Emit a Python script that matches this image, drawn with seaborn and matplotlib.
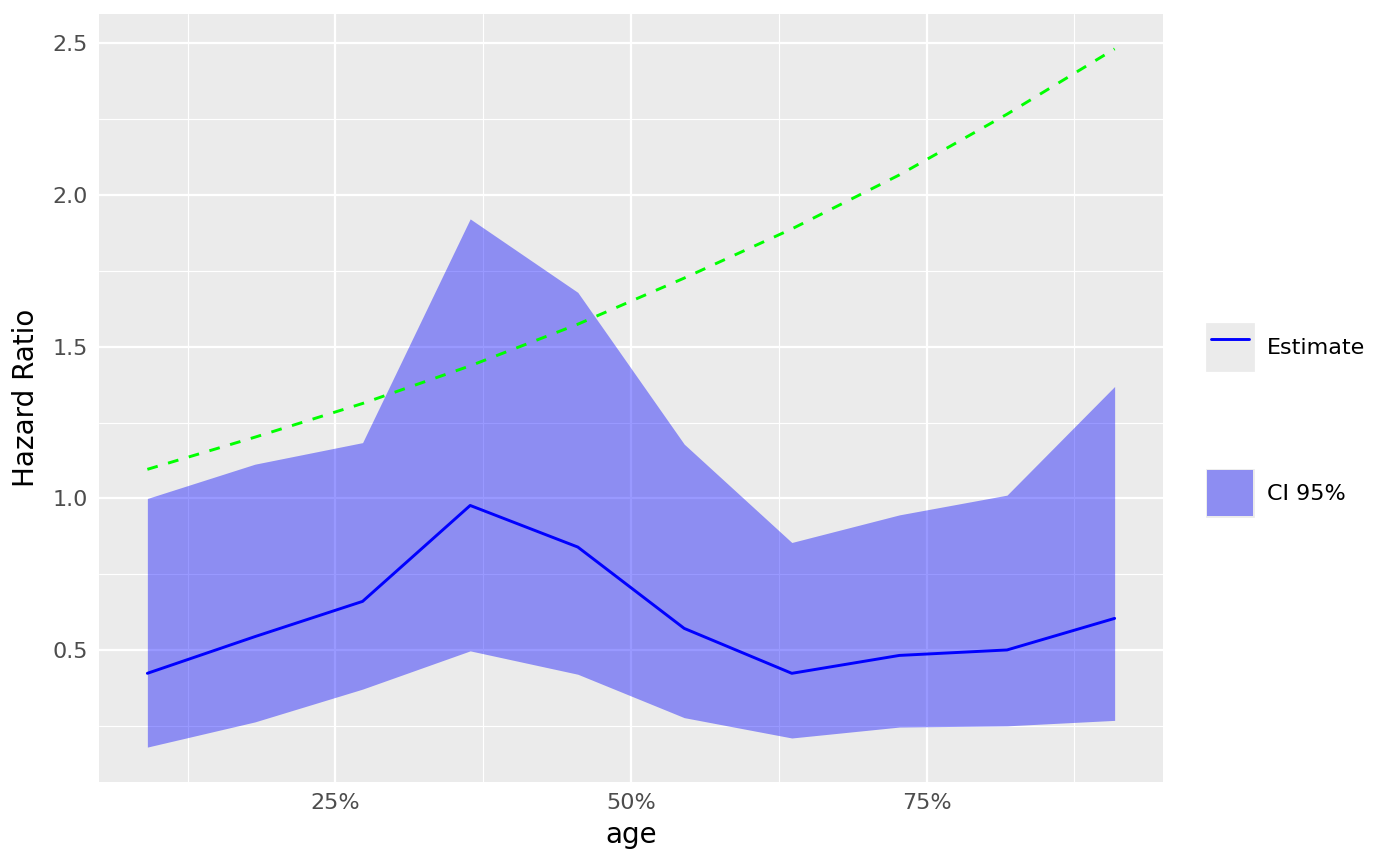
import matplotlib
matplotlib.use("Agg")
import pandas as pd
import matplotlib.pyplot as plt
import seaborn as sns
from matplotlib.ticker import FixedLocator, PercentFormatter
from matplotlib.lines import Line2D
from matplotlib.patches import Patch
from matplotlib.legend_handler import HandlerTuple, HandlerLine2D

# values
age = [0.091, 0.182, 0.273, 0.364, 0.455, 0.545, 0.636, 0.727, 0.818, 0.909]
estimate = [0.424, 0.545, 0.661, 0.977, 0.840, 0.572, 0.424, 0.483, 0.501, 0.605]
ci_lower = [0.181, 0.264, 0.372, 0.498, 0.421, 0.278, 0.211, 0.247, 0.251, 0.269]
ci_upper = [1.000, 1.113, 1.184, 1.921, 1.679, 1.179, 0.855, 0.946, 1.011, 1.369]
reference = [1.096, 1.202, 1.313, 1.437, 1.574, 1.726, 1.888, 2.066, 2.266, 2.481]

x_breaks = [0.25, 0.50, 0.75]
x_minor = [0.125, 0.375, 0.625, 0.875]
y_breaks = [0.5, 1.0, 1.5, 2.0, 2.5]
y_minor = [0.25, 0.75, 1.25, 1.75, 2.25]

df = pd.DataFrame({"age": age, "estimate": estimate, "lower": ci_lower,
                   "upper": ci_upper, "reference": reference})

panel = "#EBEBEB"
sns.set_style("darkgrid", {"axes.facecolor": panel, "grid.color": "white"})
plt.rcParams["font.family"] = ["DejaVu Sans"]

fig = plt.figure(figsize=(14, 8.66), dpi=100)
ax = fig.add_axes([99 / 1400, 1 - 782 / 866, (1163 - 99) / 1400, (782 - 14) / 866])
ax.set_axisbelow(True)

# confidence ribbon, estimate line and dashed reference curve
ax.fill_between(df["age"], df["lower"], df["upper"], color="blue", alpha=0.4, lw=0)
sns.lineplot(data=df, x="age", y="estimate", color="blue", lw=2.1, ax=ax)
sns.lineplot(data=df, x="age", y="reference", color="#00FF00", lw=2.1,
             linestyle=(0, (3.7, 3.7)), ax=ax)

ax.margins(x=0.05, y=0.05)

ax.xaxis.set_major_locator(FixedLocator(x_breaks))
ax.xaxis.set_minor_locator(FixedLocator(x_minor))
ax.xaxis.set_major_formatter(PercentFormatter(1.0, decimals=0))
ax.yaxis.set_major_locator(FixedLocator(y_breaks))
ax.yaxis.set_minor_locator(FixedLocator(y_minor))
ax.yaxis.set_major_formatter(lambda v, p: f"{v:.1f}")

ax.grid(which="major", color="white", lw=1.6)
ax.grid(which="minor", color="white", lw=0.8)
for s in ax.spines.values():
    s.set_visible(False)

ax.tick_params(which="major", length=5, width=1.1, color="#333333",
               labelcolor="#4D4D4D", labelsize=16, pad=3)
ax.tick_params(which="minor", length=0)

ax.set_xlabel("age", fontsize=20, labelpad=6, color="black")
ax.set_ylabel("Hazard Ratio", fontsize=20, labelpad=9, color="black")

# legend keys on grey squares, as in ggplot
fs = 16
est_key = Line2D([], [], color="blue", lw=2.1)
ci_key = Patch(facecolor=(0, 0, 1, 0.4), edgecolor="none")
common = dict(loc="center left", frameon=False, fontsize=fs, handlelength=2.07,
              handleheight=2.81, handletextpad=0.63, borderpad=0, borderaxespad=0,
              labelcolor="black",
              handler_map={tuple: HandlerTuple(ndivide=1, pad=0),
                           Line2D: HandlerLine2D(numpoints=2, marker_pad=0.2)})
fig.legend([(Patch(facecolor=panel, edgecolor=panel, lw=2), est_key)], ["Estimate"],
           bbox_to_anchor=(1207 / 1400, 1 - 347 / 866), **common)
fig.legend([(Patch(facecolor=panel, edgecolor=panel, lw=2), ci_key)], ["CI 95%"],
           bbox_to_anchor=(1207 / 1400, 1 - 493 / 866), **common)

fig.savefig("out.png", dpi=100, facecolor="white")
